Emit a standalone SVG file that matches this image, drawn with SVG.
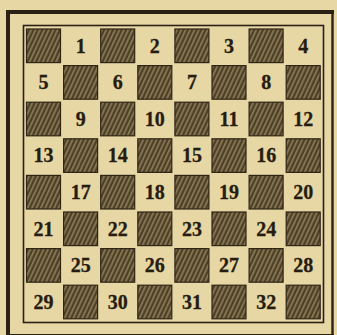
<svg xmlns="http://www.w3.org/2000/svg" width="337" height="335" viewBox="0 0 337 335">
<defs>
<pattern id="hatch" patternUnits="userSpaceOnUse" width="4" height="4" patternTransform="rotate(25)">
<rect width="4" height="4" fill="#4d3f28"/>
<rect x="0" y="0" width="1.7" height="4" fill="#9e8f62" opacity="0.75"/>
</pattern>
</defs>
<style>
.bg{fill:#e7d7a5}
.dk{fill:url(#hatch);stroke:#2f2515;stroke-width:1.2}
.n{font-family:"Liberation Serif","DejaVu Serif",serif;font-weight:bold;font-size:20px;fill:#261c10;text-anchor:middle;stroke:#261c10;stroke-width:0.3}
.frame{fill:none;stroke:#2a2014}
</style>
<rect class="bg" x="0" y="0" width="337" height="335"/>
<g id="border">
<line class="frame" x1="8" y1="10" x2="8" y2="340" stroke-width="4"/>
<line class="frame" x1="6" y1="12" x2="334" y2="12" stroke-width="4"/>
<line class="frame" x1="332.5" y1="10" x2="332.5" y2="340" stroke-width="2.4"/>
<line class="frame" x1="6" y1="335" x2="334" y2="335" stroke-width="2"/>
<rect class="frame" x="23.5" y="25.5" width="300" height="297" stroke-width="1.6"/>
</g>
<g id="dark-squares">
<rect class="dk" x="26.5" y="29" width="34" height="33.6"/>
<rect class="dk" x="100.7" y="29" width="34" height="33.6"/>
<rect class="dk" x="174.9" y="29" width="34" height="33.6"/>
<rect class="dk" x="249.1" y="29" width="34" height="33.6"/>

<rect class="dk" x="63.6" y="65.6" width="34" height="33.6"/>
<rect class="dk" x="137.8" y="65.6" width="34" height="33.6"/>
<rect class="dk" x="212" y="65.6" width="34" height="33.6"/>
<rect class="dk" x="286.2" y="65.6" width="34" height="33.6"/>

<rect class="dk" x="26.5" y="102.2" width="34" height="33.6"/>
<rect class="dk" x="100.7" y="102.2" width="34" height="33.6"/>
<rect class="dk" x="174.9" y="102.2" width="34" height="33.6"/>
<rect class="dk" x="249.1" y="102.2" width="34" height="33.6"/>

<rect class="dk" x="63.6" y="138.8" width="34" height="33.6"/>
<rect class="dk" x="137.8" y="138.8" width="34" height="33.6"/>
<rect class="dk" x="212" y="138.8" width="34" height="33.6"/>
<rect class="dk" x="286.2" y="138.8" width="34" height="33.6"/>

<rect class="dk" x="26.5" y="175.4" width="34" height="33.6"/>
<rect class="dk" x="100.7" y="175.4" width="34" height="33.6"/>
<rect class="dk" x="174.9" y="175.4" width="34" height="33.6"/>
<rect class="dk" x="249.1" y="175.4" width="34" height="33.6"/>

<rect class="dk" x="63.6" y="212" width="34" height="33.6"/>
<rect class="dk" x="137.8" y="212" width="34" height="33.6"/>
<rect class="dk" x="212" y="212" width="34" height="33.6"/>
<rect class="dk" x="286.2" y="212" width="34" height="33.6"/>

<rect class="dk" x="26.5" y="248.6" width="34" height="33.6"/>
<rect class="dk" x="100.7" y="248.6" width="34" height="33.6"/>
<rect class="dk" x="174.9" y="248.6" width="34" height="33.6"/>
<rect class="dk" x="249.1" y="248.6" width="34" height="33.6"/>

<rect class="dk" x="63.6" y="285.2" width="34" height="33.6"/>
<rect class="dk" x="137.8" y="285.2" width="34" height="33.6"/>
<rect class="dk" x="212" y="285.2" width="34" height="33.6"/>
<rect class="dk" x="286.2" y="285.2" width="34" height="33.6"/>
</g>
<g id="numbers">
<text class="n" x="80.65" y="52.6">1</text>
<text class="n" x="154.85" y="52.6">2</text>
<text class="n" x="229.05" y="52.6">3</text>
<text class="n" x="303.25" y="52.6">4</text>

<text class="n" x="43.55" y="89.2">5</text>
<text class="n" x="117.75" y="89.2">6</text>
<text class="n" x="191.95" y="89.2">7</text>
<text class="n" x="266.15" y="89.2">8</text>

<text class="n" x="80.65" y="125.8">9</text>
<text class="n" x="154.85" y="125.8">10</text>
<text class="n" x="229.05" y="125.8">11</text>
<text class="n" x="303.25" y="125.8">12</text>

<text class="n" x="43.55" y="162.4">13</text>
<text class="n" x="117.75" y="162.4">14</text>
<text class="n" x="191.95" y="162.4">15</text>
<text class="n" x="266.15" y="162.4">16</text>

<text class="n" x="80.65" y="199">17</text>
<text class="n" x="154.85" y="199">18</text>
<text class="n" x="229.05" y="199">19</text>
<text class="n" x="303.25" y="199">20</text>

<text class="n" x="43.55" y="235.6">21</text>
<text class="n" x="117.75" y="235.6">22</text>
<text class="n" x="191.95" y="235.6">23</text>
<text class="n" x="266.15" y="235.6">24</text>

<text class="n" x="80.65" y="272.2">25</text>
<text class="n" x="154.85" y="272.2">26</text>
<text class="n" x="229.05" y="272.2">27</text>
<text class="n" x="303.25" y="272.2">28</text>

<text class="n" x="43.55" y="308.8">29</text>
<text class="n" x="117.75" y="308.8">30</text>
<text class="n" x="191.95" y="308.8">31</text>
<text class="n" x="266.15" y="308.8">32</text>
</g>
</svg>
